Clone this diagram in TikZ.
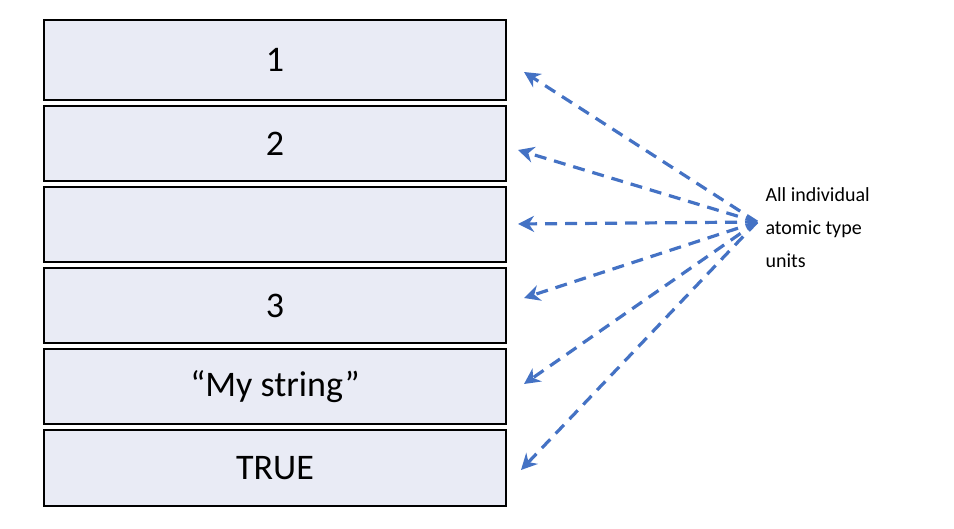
\documentclass[tikz,border=0pt]{standalone}
\usepackage{fontspec}
\setmainfont{Carlito}
\usetikzlibrary{arrows.meta}
\definecolor{cellfill}{HTML}{E9EBF5}
\definecolor{arrblue}{HTML}{4472C4}
\tikzset{
  cell/.style={draw=black,line width=2pt,fill=cellfill},
  celltext/.style={font=\fontsize{36}{40}\selectfont,anchor=center},
  arr/.style={draw=arrblue,line width=3.2pt,dash pattern=on 12pt off 8pt,-{Stealth[length=16pt,width=16pt]}}
}
\begin{document}
\begin{tikzpicture}[x=1pt,y=-1pt]
\useasboundingbox (0,0) rectangle (954,529);
\foreach \t/\b/\n in {20/100/1,106/181/2,187/262/3,268/343/4,349/424/5,430/506/6}{
  \draw[cell] (44,\t) rectangle (506,\b);
  \coordinate (r\n) at (275,{(\t+\b)/2});
}
\node[celltext] (t1) at (r1) {1};
\node[celltext] (t2) at (r2) {2};
\node[celltext] (t4) at (r4) {3};
\node[celltext] (t5) at (r5) {“My string”};
\node[celltext] (t6) at (r6) {TRUE};
\node[font=\fontsize{20}{33}\selectfont,align=left,anchor=west] (lbl) at (762,228) {All individual\\atomic type\\units};
\coordinate (src) at (757,222);
\coordinate (a1) at (524,72);
\coordinate (a2) at (518,150);
\coordinate (a3) at (518,224);
\coordinate (a4) at (524,298);
\coordinate (a5) at (524,384);
\coordinate (a6) at (521,470);
\foreach \i in {1,...,6}{\draw[arr] (src) -- (a\i);}
\end{tikzpicture}
\end{document}
